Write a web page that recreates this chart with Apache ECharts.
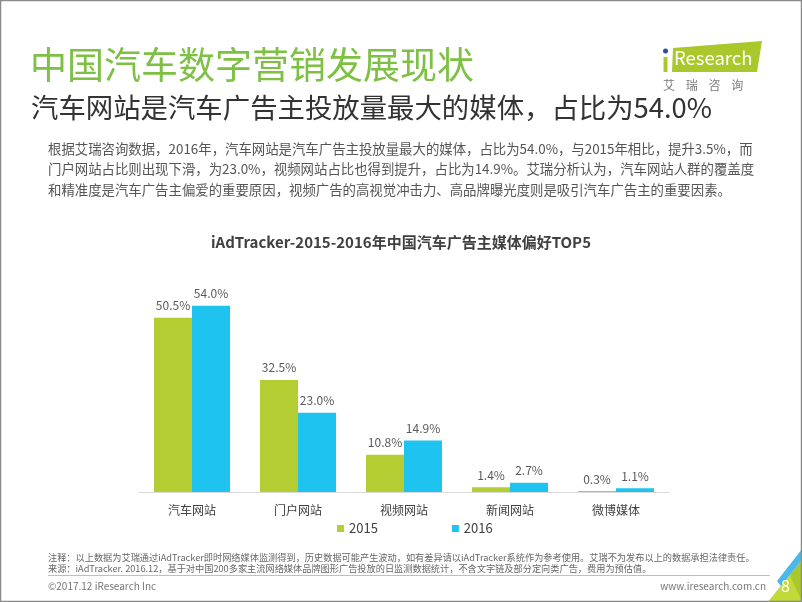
<!DOCTYPE html>
<html><head><meta charset="utf-8">
<script src="https://cdn.jsdelivr.net/npm/echarts@6/dist/echarts.min.js"></script>
<style>html,body{margin:0;padding:0;background:#fff}#c{width:802px;height:602px}</style>
</head><body><div id="c"></div>
<script>
const categories = ['汽车网站','门户网站','视频网站','新闻网站','微博媒体'];
const seriesNames = ['2015','2016'];
const values2015 = [50.5, 32.5, 10.8, 1.4, 0.3];
const values2016 = [54.0, 23.0, 14.9, 2.7, 1.1];
const pageTitle = '中国汽车数字营销发展现状';
const subTitle = '汽车网站是汽车广告主投放量最大的媒体，占比为54.0%';
const paragraph = [
 '根据艾瑞咨询数据，2016年，汽车网站是汽车广告主投放量最大的媒体，占比为54.0%，与2015年相比，提升3.5%，而',
 '门户网站占比则出现下滑，为23.0%，视频网站占比也得到提升，占比为14.9%。艾瑞分析认为，汽车网站人群的覆盖度',
 '和精准度是汽车广告主偏爱的重要原因，视频广告的高视觉冲击力、高品牌曝光度则是吸引汽车广告主的重要因素。'
];
const chartTitle = 'iAdTracker-2015-2016年中国汽车广告主媒体偏好TOP5';
const notes = [
 '注释：以上数据为艾瑞通过iAdTracker即时网络媒体监测得到，历史数据可能产生波动，如有差异请以iAdTracker系统作为参考使用。艾瑞不为发布以上的数据承担法律责任。',
 '来源：iAdTracker. 2016.12，基于对中国200多家主流网络媒体品牌图形广告投放的日监测数据统计，不含文字链及部分定向类广告，费用为预估值。'
];
const FONT = '"Noto Sans CJK SC","Noto Sans",sans-serif';
const GREEN = '#b3cd33', BLUE = '#1ec3ef';
const chart = echarts.init(document.getElementById('c'));
const g = [];
g.push({type:'rect',shape:{x:0.5,y:0.5,width:801,height:601},style:{fill:'none',stroke:'#8a8a8a',lineWidth:1.5},z:100});
g.push({type:'text',left:30,top:46,style:{text:pageTitle,font:'normal 37px '+FONT,fill:'#7dc043'}});
g.push({type:'text',left:31,top:94,style:{text:subTitle,font:'normal 27.4px '+FONT,fill:'#333333'}});
paragraph.forEach((t,i)=>g.push({type:'text',left:48,top:142+i*20.5,style:{text:t,font:'normal 13.4px '+FONT,fill:'#555555'}}));
// logo
g.push({type:'polygon',shape:{points:[[673,48],[762,41],[757,72],[672,72]]},style:{fill:'#a8c82c'}});
g.push({type:'text',left:674,top:49,style:{text:'Research',font:'normal 18.5px '+FONT,fill:'#ffffff'}});
g.push({type:'rect',shape:{x:663.5,y:57,width:4,height:15},style:{fill:'#a8c82c'}});
g.push({type:'circle',shape:{cx:665.5,cy:51,r:2.5},style:{fill:'#2b4f9e'}});
g.push({type:'text',left:663,top:79,style:{text:'艾    瑞    咨    询',font:'normal 12px '+FONT,fill:'#7a7a7a'}});
// footer
notes.forEach((t,i)=>g.push({type:'text',left:48,top:553+i*11,style:{text:t,font:'normal 9.2px '+FONT,fill:'#666666'}}));
g.push({type:'line',shape:{x1:48,y1:575.5,x2:770,y2:575.5},style:{stroke:'#bfbfbf',lineWidth:1}});
g.push({type:'text',left:48,top:581,style:{text:'©2017.12 iResearch Inc',font:'normal 10px '+FONT,fill:'#777777'}});
g.push({type:'text',right:36,top:581,style:{text:'www.iresearch.com.cn',font:'normal 10px '+FONT,fill:'#777777'}});
g.push({type:'polygon',shape:{points:[[768,602],[802,560],[802,602]]},style:{fill:'#a8c82c'}});
g.push({type:'polygon',shape:{points:[[777,581],[802,549],[802,560],[781,586]]},style:{fill:'#4ab8e8'}});
g.push({type:'polygon',shape:{points:[[768,602],[790,575],[802,602]]},style:{fill:'#c2d93a'}});
g.push({type:'text',left:781,top:578,style:{text:'8',font:'normal 16px '+FONT,fill:'#ffffff'},z:10});

chart.setOption({
 animation:false,
 textStyle:{fontFamily:FONT},
 title:{text:chartTitle,left:'center',top:230,textStyle:{fontSize:15,fontWeight:'bold',color:'#404040',fontFamily:FONT}},
 legend:{data:seriesNames,left:332,top:517,itemWidth:7,itemHeight:7,itemGap:74,icon:'rect',
   textStyle:{fontSize:13,color:'#404040',fontFamily:FONT}},
 grid:{left:139,right:133,top:285,bottom:110,containLabel:false},
 xAxis:{type:'category',data:categories,axisLine:{lineStyle:{color:'#d9d9d9'}},axisTick:{show:false},
   axisLabel:{fontSize:12,color:'#404040',margin:12,fontFamily:FONT}},
 yAxis:{type:'value',min:0,max:60,show:false,splitLine:{show:false}},
 series:[
  {name:seriesNames[0],type:'bar',data:values2015,barWidth:38,barGap:'0%',itemStyle:{color:GREEN},
   label:{show:true,position:'top',distance:6,fontSize:12,color:'#595959',formatter:p=>p.value.toFixed(1)+'%'}},
  {name:seriesNames[1],type:'bar',data:values2016,barWidth:38,barGap:'0%',itemStyle:{color:BLUE},
   label:{show:true,position:'top',distance:6,fontSize:12,color:'#595959',formatter:p=>p.value.toFixed(1)+'%'}}
 ],
 graphic:g
});
</script></body></html>
